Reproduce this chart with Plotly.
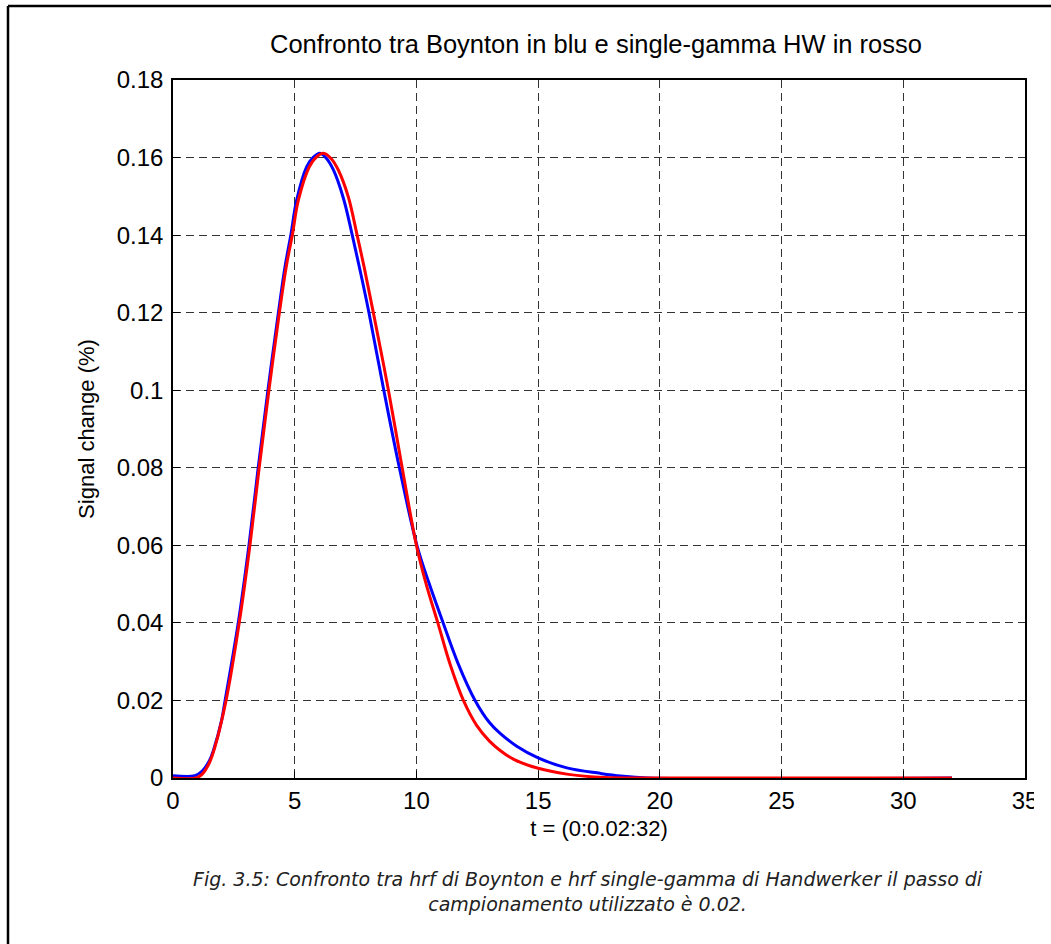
import plotly.graph_objects as go

# Boynton HRF (blue)
t_boynton = [0, 0.9, 1.2, 1.5, 1.66, 2.0, 2.14, 2.68, 3.12, 3.50, 3.90, 4.33, 4.60, 4.84, 5.08, 5.49,
             5.75, 6.04, 6.30, 6.59, 7.0, 7.35, 7.70, 8.05, 8.66, 9.30, 10.02, 10.52, 11.04, 11.7,
             12.41, 13.0, 13.44, 14.12, 15.0, 16.18, 17.55, 18.4, 19.5, 32]
v_boynton = [0.0006, 0.0006, 0.0018, 0.0045, 0.0071, 0.015, 0.020, 0.040, 0.060, 0.080, 0.100, 0.120,
             0.1318, 0.140, 0.149, 0.1576, 0.1600, 0.1611, 0.1598, 0.1568, 0.1495, 0.1404, 0.1305,
             0.120, 0.100, 0.080, 0.060, 0.0502, 0.0410, 0.0297, 0.020, 0.0143, 0.0115, 0.0082, 0.0052,
             0.0026, 0.0012, 0.0005, 0.0, 0.0]

# single-gamma Handwerker HRF (red)
t_hw = [0, 0.95, 1.2, 1.5, 1.7, 2.18, 2.72, 3.16, 3.54, 3.94, 4.37, 4.65, 4.90, 5.15, 5.60, 5.90,
        6.18, 6.50, 6.79, 7.20, 7.55, 7.85, 8.23, 8.85, 9.40, 10.0, 10.4, 10.88, 11.4, 11.93,
        12.48, 13.0, 13.44, 14.0, 15.0, 16.18, 17.5, 19.0, 32]
v_hw = [0.0, 0.0, 0.001, 0.004, 0.0075, 0.020, 0.040, 0.060, 0.080, 0.100, 0.120, 0.1318, 0.140,
        0.149, 0.1576, 0.1602, 0.1611, 0.1597, 0.1568, 0.1499, 0.1404, 0.1318, 0.120, 0.100, 0.0805,
        0.060, 0.050, 0.040, 0.029, 0.020, 0.0135, 0.0095, 0.0071, 0.0048, 0.0025, 0.0010, 0.0002,
        0.0, 0.0]

x_ticks = [0, 5, 10, 15, 20, 25, 30, 35]
y_ticks = [0, 0.02, 0.04, 0.06, 0.08, 0.1, 0.12, 0.14, 0.16, 0.18]
y_ticktext = ["0", "0.02", "0.04", "0.06", "0.08", "0.1", "0.12", "0.14", "0.16", "0.18"]

title_text = "Confronto tra Boynton in blu e single-gamma HW in rosso"
x_label = "t = (0:0.02:32)"
y_label = "Signal change (%)"
caption = ("Fig. 3.5: Confronto tra hrf di Boynton e hrf single-gamma di Handwerker il passo di<br>"
           "campionamento utilizzato è 0.02.")

FONT = "Liberation Sans, Arial, sans-serif"

fig = go.Figure()
fig.add_trace(go.Scatter(x=t_boynton, y=v_boynton, mode="lines",
                         line=dict(color="#0000FF", width=3, shape="spline", smoothing=1.0),
                         showlegend=False))
fig.add_trace(go.Scatter(x=t_hw, y=v_hw, mode="lines",
                         line=dict(color="#FF0000", width=3, shape="spline", smoothing=1.0),
                         showlegend=False))

axis_common = dict(
    showline=True, linecolor="black", linewidth=1.5, mirror=True,
    ticks="inside", ticklen=7, tickcolor="black",
    showgrid=True, gridcolor="#333333", griddash="8px,5px", gridwidth=1,
    zeroline=False,
    tickfont=dict(family=FONT, size=24, color="black"),
)

fig.update_xaxes(range=[0, 35], tickvals=x_ticks, ticktext=[str(v) for v in x_ticks],
                 title=dict(text=x_label, font=dict(family=FONT, size=22, color="black"), standoff=8),
                 **axis_common)
fig.update_yaxes(range=[0, 0.18], tickvals=y_ticks, ticktext=y_ticktext, ticklabelstandoff=3,
                 title=dict(text=y_label, font=dict(family=FONT, size=22, color="black"), standoff=16),
                 **axis_common)

# paper coords relative to plot area 173..1025 x 80..778
def px(x):
    return (x - 173) / 852


def py(y):
    return (778 - y) / 698


# page border visible only on top and left
fig.add_shape(type="line", xref="paper", yref="paper", x0=px(8), x1=px(1051), y0=py(6), y1=py(6),
              line=dict(color="black", width=2.5))
fig.add_shape(type="line", xref="paper", yref="paper", x0=px(8), x1=px(8), y0=py(6), y1=py(944),
              line=dict(color="black", width=2.5))
# the source figure is clipped at its right edge (cuts the last tick label)
fig.add_shape(type="rect", xref="paper", yref="paper", x0=px(1034), x1=px(1051), y0=py(784), y1=py(816),
              line=dict(width=0), fillcolor="white", layer="above")

fig.add_annotation(text="<i>" + caption + "</i>", xref="paper", yref="paper", x=px(588),
                   y=py(892), showarrow=False, align="center",
                   font=dict(family="DejaVu Sans", size=19, color="#222222"),
                   xanchor="center", yanchor="middle")
fig.add_annotation(text=title_text, xref="paper", yref="paper", x=px(596),
                   y=py(44), showarrow=False,
                   font=dict(family=FONT, size=25.5, color="black"),
                   xanchor="center", yanchor="middle")

fig.update_layout(
    width=1051, height=944,
    margin=dict(l=173, r=26, t=80, b=166),
    paper_bgcolor="white", plot_bgcolor="white",
)

fig.write_html("out.html")
